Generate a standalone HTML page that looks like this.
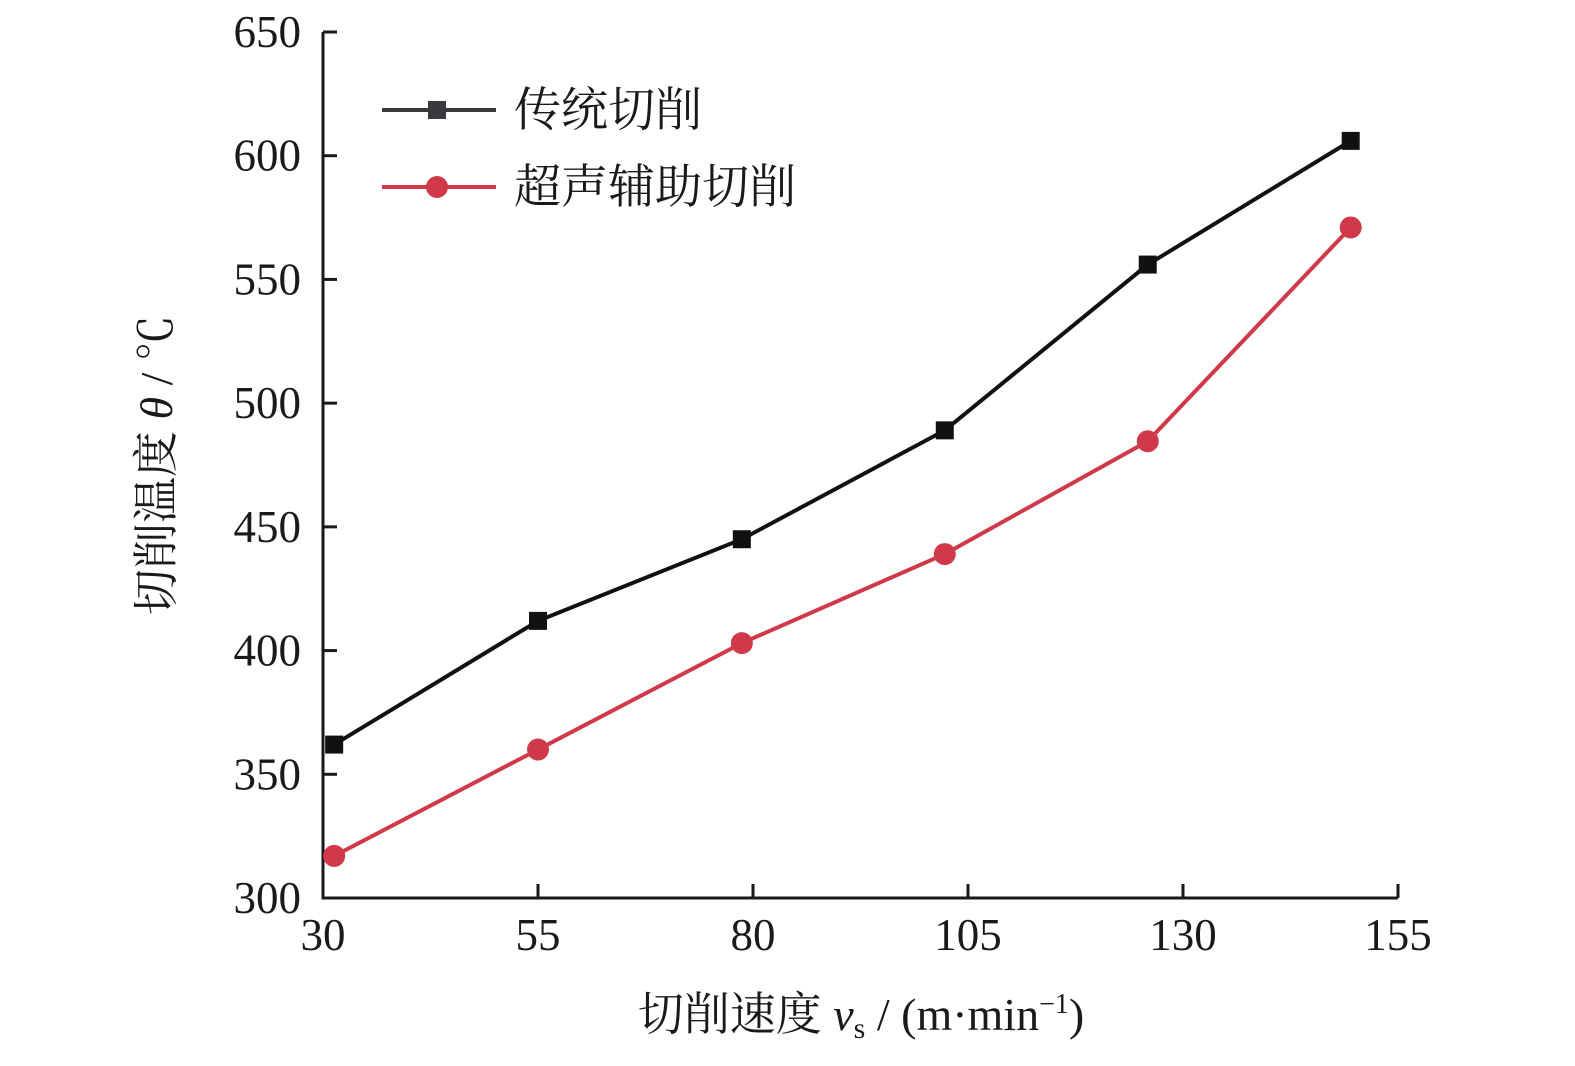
<!DOCTYPE html>
<html><head><meta charset="utf-8"><style>
body{margin:0;background:#fff}
svg text{font-family:"Liberation Serif","Noto Serif CJK SC",serif;fill:#1a1a1a}
</style></head><body>
<svg width="1575" height="1061" viewBox="0 0 1575 1061">
<g id="axes"></g>
<g id="series"></g>
<g>
 <line x1="382" y1="110" x2="496" y2="110" stroke="#3a3a3e" stroke-width="4"/>
 <rect x="428" y="101" width="18" height="18" fill="#3a3a3e"/>
 <text x="514" y="126" font-size="47">传统切削</text>
 <line x1="382" y1="187" x2="496" y2="187" stroke="#d0394a" stroke-width="4"/>
 <circle cx="437" cy="187" r="11" fill="#d0394a"/>
 <text x="514" y="203" font-size="47">超声辅助切削</text>
</g>
<text x="861" y="1030" font-size="46" text-anchor="middle">切削速度 <tspan font-style="italic">v</tspan><tspan font-size="30" dy="8">s</tspan><tspan dy="-8"> / (m·min</tspan><tspan font-size="28" dy="-17">−1</tspan><tspan dy="17">)</tspan></text>
<text transform="translate(172,465) rotate(-90)" font-size="46" text-anchor="middle">切削温度 <tspan font-style="italic">θ</tspan> / ℃</text>
</svg>
<script>
const xTicks=[30,55,80,105,130,155];
const yTicks=[300,350,400,450,500,550,600,650];
const xVals=[31.3,55,78.7,102.3,125.9,149.5];
const conventional=[362,412,445,489,556,606];
const ultrasonic=[317,360,403,439,484.6,571];
const X0=323,X1=1398,Y0=898,Y1=32;
const sx=v=>X0+(v-30)/125*(X1-X0);
const sy=v=>Y0-(v-300)/350*(Y0-Y1);
const NS="http://www.w3.org/2000/svg";
function mk(t,a,p){const e=document.createElementNS(NS,t);for(const k in a)e.setAttribute(k,a[k]);p.appendChild(e);return e;}
const ax=document.getElementById('axes'),se=document.getElementById('series');
let l=mk('path',{d:`M${X0},${Y1}V${Y0}H${X1}`,fill:'none',stroke:'#1a1a1a','stroke-width':3},ax);


xTicks.forEach(v=>{
 const t=mk('line',{x1:sx(v),x2:sx(v),y1:Y0,y2:Y0-14,stroke:'#1a1a1a','stroke-width':3},ax);
 
 
 const s=mk('text',{x:sx(v),y:Y0+52,'font-size':45,'text-anchor':'middle'},ax);s.textContent=v;
 
 
});
yTicks.forEach(v=>{
 const t=mk('line',{x1:X0,x2:X0+14,y1:sy(v),y2:sy(v),stroke:'#1a1a1a','stroke-width':3},ax);
 
 
 const s=mk('text',{x:X0-22,y:sy(v)+15,'font-size':45,'text-anchor':'end'},ax);s.textContent=v;
 
 
});
function draw(vals,color,sq,name){
 const p=mk('polyline',{points:vals.map((v,i)=>sx(xVals[i])+','+sy(v)).join(' '),fill:'none',stroke:color,'stroke-width':4},se);
 
 
 vals.forEach((v,i)=>{
  const m=sq?mk('rect',{x:sx(xVals[i])-9,y:sy(v)-9,width:18,height:18,fill:color},se):mk('circle',{cx:sx(xVals[i]),cy:sy(v),r:11,fill:color},se);
  
  
 });
}
draw(conventional,'#111',true,'conventional');
draw(ultrasonic,'#d0394a',false,'ultrasonic');
</script>
</body></html>
